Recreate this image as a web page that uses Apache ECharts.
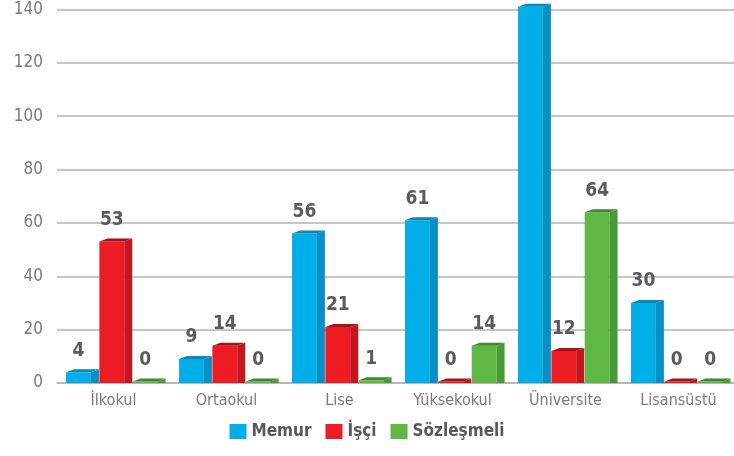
<!DOCTYPE html>
<html>
<head>
<meta charset="utf-8">
<script src="https://cdn.jsdelivr.net/npm/echarts@6/dist/echarts.min.js"></script>
<style>
  html, body { margin: 0; padding: 0; background: #fff; }
  #chart { width: 734px; height: 456px; }
</style>
</head>
<body>
<div id="chart"></div>
<script>
const categories = ['İlkokul', 'Ortaokul', 'Lise', 'Yüksekokul', 'Üniversite', 'Lisansüstü'];
const memur = [4, 9, 56, 61, 141, 30];
const isci = [53, 14, 21, 0, 12, 0];
const sozlesmeli = [0, 0, 1, 14, 64, 0];
const yTicks = [0, 20, 40, 60, 80, 100, 120, 140, 160];

const FONT = '"DejaVu Sans Condensed", "Liberation Sans Narrow", Roboto, sans-serif';

// front / side / top colours of each 3d bar
const palette = [
  { front: '#00aee8', side: '#0a8fc4', top: '#0b86b8' },
  { front: '#ed1c24', side: '#c4161d', top: '#a51218' },
  { front: '#5fb846', side: '#4a9a36', top: '#3f8a2e' }
];

function bar3d(slot, col) {
  return function (params, api) {
    const cat = api.value(0);
    const val = api.value(1);
    const base = api.coord([cat, 0]);
    const top = api.coord([cat, val]);
    const band = api.size([1, 0])[0];
    const w = band * 0.22;
    const cx = base[0] + slot * band * 0.295 - band * 0.015;
    const x0 = cx - w / 2, x1 = cx + w / 2;
    const y0 = base[1];
    const y1 = Math.min(top[1], y0 - 1.5);
    const dx = 8, dy = 3;
    return {
      type: 'group',
      children: [
        { type: 'rect', shape: { x: x0, y: y1, width: w, height: y0 - y1 }, style: { fill: col.front } },
        { type: 'polygon', shape: { points: [[x1, y1], [x1 + dx, y1 - dy], [x1 + dx, y0], [x1, y0]] }, style: { fill: col.side } },
        { type: 'polygon', shape: { points: [[x0, y1], [x0 + dx, y1 - dy], [x1 + dx, y1 - dy], [x1, y1]] }, style: { fill: col.top } },
        {
          type: 'text',
          style: {
            text: String(val), x: cx, y: y1 - dy - 9,
            align: 'center', verticalAlign: 'bottom',
            font: 'bold 19px ' + FONT, fill: '#5b5b5f'
          }
        }
      ]
    };
  };
}

function makeSeries(name, values, slot, col) {
  return {
    name: name,
    type: 'custom',
    renderItem: bar3d(slot, col),
    itemStyle: { color: col.front },
    encode: { x: 0, y: 1 },
    clip: false,
    data: values.map((v, i) => [i, v])
  };
}

const chart = echarts.init(document.getElementById('chart'));
chart.setOption({
  animation: false,
  grid: { left: 57, right: -1, top: -44, bottom: 73, outerBoundsMode: 'none', containLabel: false },
  legend: {
    bottom: 11,
    left: 'center',
    icon: 'rect',
    itemWidth: 17,
    itemHeight: 15,
    itemGap: 14,
    textStyle: { fontFamily: FONT, fontWeight: 'bold', fontSize: 17, color: '#58585c' },
    data: ['Memur', 'İşçi', 'Sözleşmeli']
  },
  xAxis: {
    type: 'category',
    data: categories,
    axisTick: { show: false },
    axisLine: { lineStyle: { color: '#b3b3b3', width: 1.5 } },
    axisLabel: { interval: 0, fontFamily: FONT, fontSize: 16, color: '#7a7a7e', margin: 10 }
  },
  yAxis: {
    type: 'value',
    min: yTicks[0],
    max: yTicks[yTicks.length - 1],
    interval: 20,
    axisLine: { show: false },
    axisTick: { show: false },
    splitLine: { lineStyle: { color: '#b3b3b3', width: 1.5 } },
    axisLabel: { fontFamily: FONT, fontSize: 17, color: '#7a7a7e', margin: 14 }
  },
  series: [
    makeSeries('Memur', memur, -1, palette[0]),
    makeSeries('İşçi', isci, 0, palette[1]),
    makeSeries('Sözleşmeli', sozlesmeli, 1, palette[2])
  ]
});
</script>
</body>
</html>
